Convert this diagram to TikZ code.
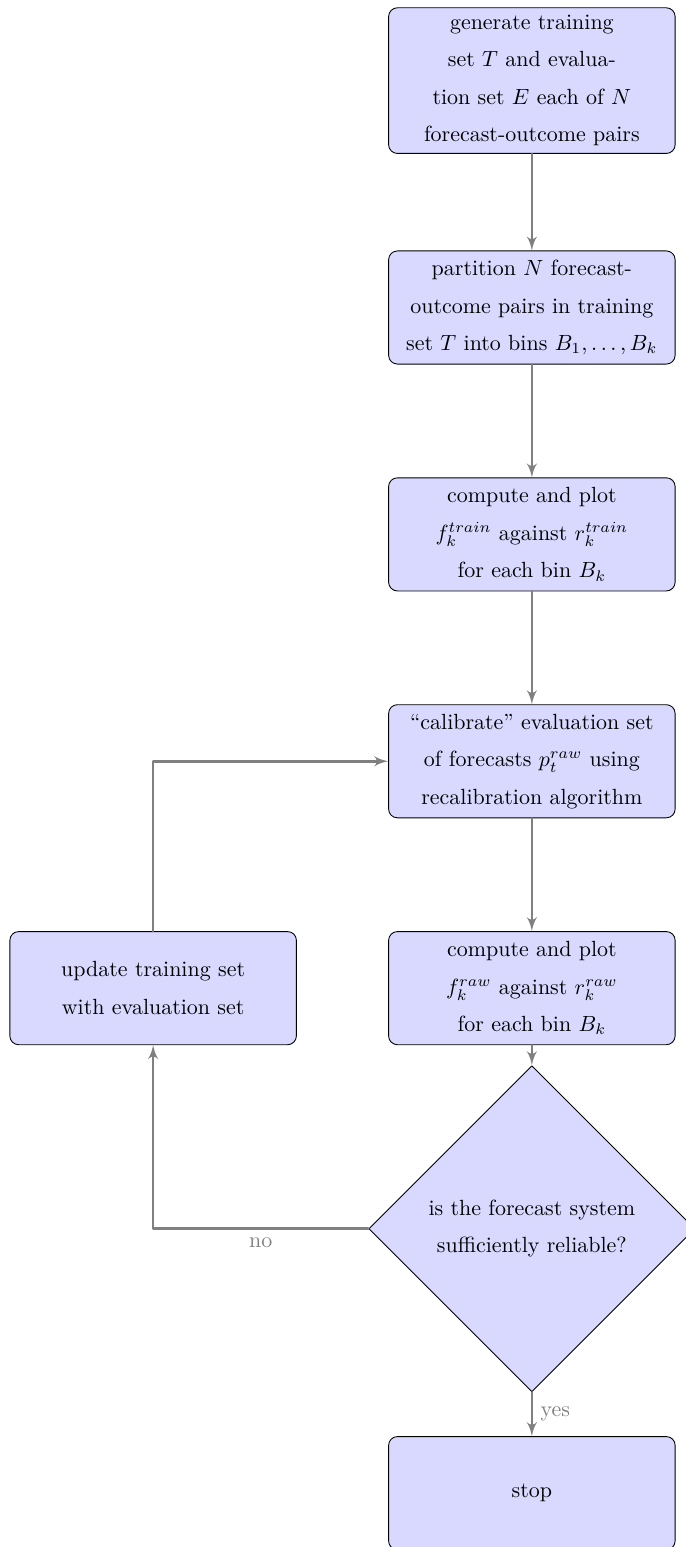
\documentclass[tikz,border=0pt]{standalone}
\usepackage{tikz}
\usetikzlibrary{arrows}
\usetikzlibrary{shapes.geometric}

\begin{document}
\begin{tikzpicture}[line cap=round,line join=round,>=latex',
  block/.style={rectangle, draw, fill=blue!15, rounded corners, text width=4.35cm,
    minimum height=1.81cm, align=center, font=\linespread{1.42}\selectfont},
  decision/.style={diamond, draw, fill=blue!15, align=center, inner sep=0pt,
    minimum width=5.22cm, minimum height=5.22cm, font=\linespread{1.42}\selectfont},
  line/.style={draw, very thick, color=gray, ->}]
\useasboundingbox (0,0) rectangle (10.976,-24.752);
% blocks
\node[block] (generate) at (8.51,-1.29) {generate training\\ set $T$ and evalua-\\ tion set $E$ each of $N$\\ forecast-outcome pairs};
\node[block] (partition) at (8.51,-4.92) {partition $N$ forecast-\\ outcome pairs in training\\ set $T$ into bins $B_1,\dots,B_k$};
\node[block] (plottrain) at (8.51,-8.55) {compute and plot\\ $f_k^{train}$ against $r_k^{train}$\\ for each bin $B_k$};
\node[block] (calibrate) at (8.51,-12.18) {``calibrate'' evaluation set\\ of forecasts $p_t^{raw}$ using\\ recalibration algorithm};
\node[block] (plotraw) at (8.51,-15.81) {compute and plot\\ $f_k^{raw}$ against $r_k^{raw}$\\ for each bin $B_k$};
\node[block] (update) at (2.45,-15.81) {update training set\\ with evaluation set};
\node[decision] (reliable) at (8.51,-19.66) {is the forecast system\\ sufficiently reliable?};
\node[block] (stop) at (8.51,-23.89) {stop};
% arrows
\path[line] (generate) -- (partition);
\path[line] (partition) -- (plottrain);
\path[line] (plottrain) -- (calibrate);
\path[line] (calibrate) -- (plotraw);
\path[line] (plotraw) -- (reliable);
\path[line] (reliable) -| node[pos=0.25, below, color=gray] {no} (update);
\path[line] (update) |- (calibrate);
\path[line] (reliable) -- node[right, color=gray] {yes} (stop);
\end{tikzpicture}
\end{document}
